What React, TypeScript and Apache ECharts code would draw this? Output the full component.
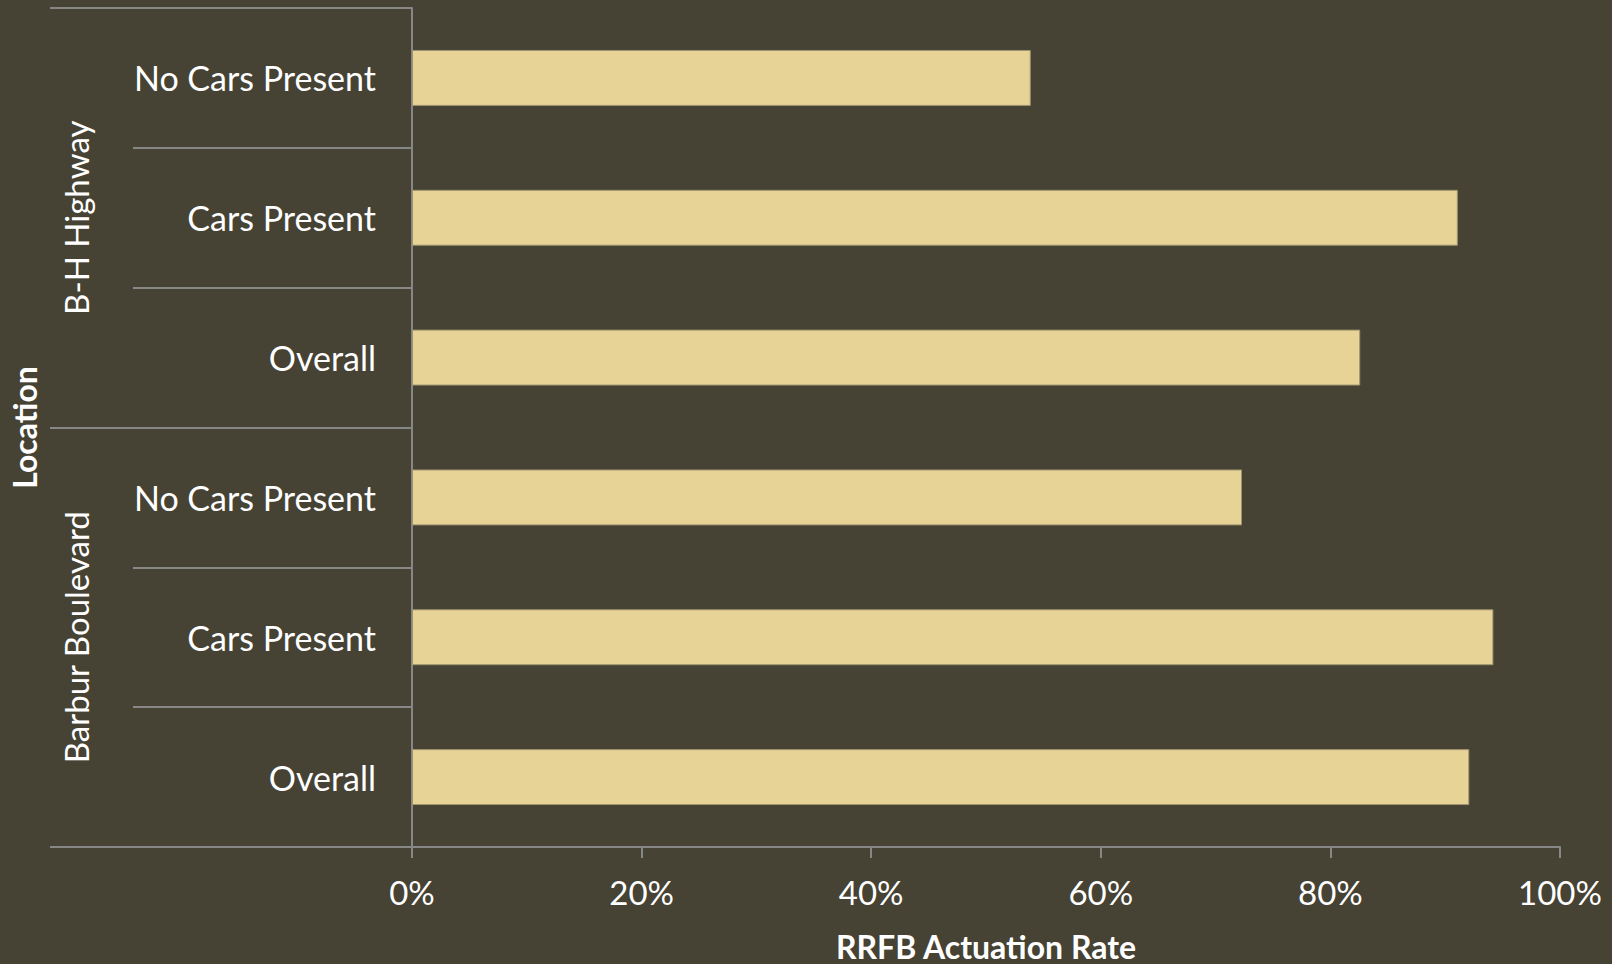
import React, { useEffect, useRef } from "react";
import * as echarts from "echarts";

const categories = [
  "No Cars Present",
  "Cars Present",
  "Overall",
  "No Cars Present",
  "Cars Present",
  "Overall",
];
const groups = ["B-H Highway", "Barbur Boulevard"];
const rates = [0.539, 0.911, 0.826, 0.723, 0.942, 0.921];
const xTicks = [0, 0.2, 0.4, 0.6, 0.8, 1.0];

const FONT = "Lato, 'Open Sans', sans-serif";
const AXIS_GRAY = "#878787";

export default function App() {
  const ref = useRef<HTMLDivElement>(null);
  useEffect(() => {
    if (!ref.current) return;
    document.body.style.margin = "0";
    document.body.style.overflow = "hidden";
    const chart = echarts.init(ref.current, null, { renderer: "svg", width: 1612, height: 964 });
    chart.setOption({
      animation: false,
      backgroundColor: "#464234",
      textStyle: { fontFamily: FONT },
      grid: {
        left: 412,
        right: 52,
        top: 8,
        bottom: 117,
        containLabel: false,
        outerBoundsMode: "none",
      },
      xAxis: {
        type: "value",
        min: xTicks[0],
        max: xTicks[xTicks.length - 1],
        interval: 0.2,
        splitLine: { show: false },
        axisLine: { show: true, lineStyle: { color: AXIS_GRAY, width: 2 } },
        axisTick: { show: true, length: 11, lineStyle: { color: AXIS_GRAY, width: 2 } },
        axisLabel: {
          color: "#ffffff",
          fontSize: 33,
          fontFamily: FONT,
          margin: 28,
          formatter: (v: number) => Math.round(v * 100) + "%",
        },
        name: "RRFB Actuation Rate",
        nameLocation: "middle",
        nameGap: 86,
        nameTextStyle: {
          color: "#ffffff",
          fontSize: 32,
          lineHeight: 26,
          fontWeight: "bold",
          fontFamily: FONT,
        },
      },
      yAxis: [
        {
          type: "category",
          data: categories,
          inverse: true,
          position: "left",
          axisLine: { show: true, lineStyle: { color: AXIS_GRAY, width: 2 } },
          axisTick: { show: true, length: 279, lineStyle: { color: AXIS_GRAY, width: 2 } },
          axisLabel: {
            color: "#ffffff",
            fontSize: 34,
            fontFamily: FONT,
            margin: 36,
            padding: [0, 0, 4, 0],
          },
          name: "Location",
          nameLocation: "middle",
          nameRotate: 90,
          nameGap: 372,
          nameTextStyle: { color: "#ffffff", fontSize: 32, fontWeight: "bold", fontFamily: FONT },
        },
        {
          type: "category",
          data: groups,
          inverse: true,
          position: "left",
          axisLine: { show: false },
          axisTick: { show: true, length: 362, lineStyle: { color: AXIS_GRAY, width: 2 } },
          axisLabel: {
            color: "#ffffff",
            fontSize: 33,
            fontFamily: FONT,
            rotate: 90,
            margin: 320,
          },
        },
      ],
      series: [
        {
          type: "bar",
          yAxisIndex: 0,
          data: rates,
          barCategoryGap: "60%",
          itemStyle: { color: "#E8D396", borderColor: "#9E9370", borderWidth: 1 },
        },
      ],
    });
    return () => chart.dispose();
  }, []);
  return (
    <div
      ref={ref}
      style={{ position: "fixed", left: 0, top: 0, width: 1612, height: 964 }}
    />
  );
}
